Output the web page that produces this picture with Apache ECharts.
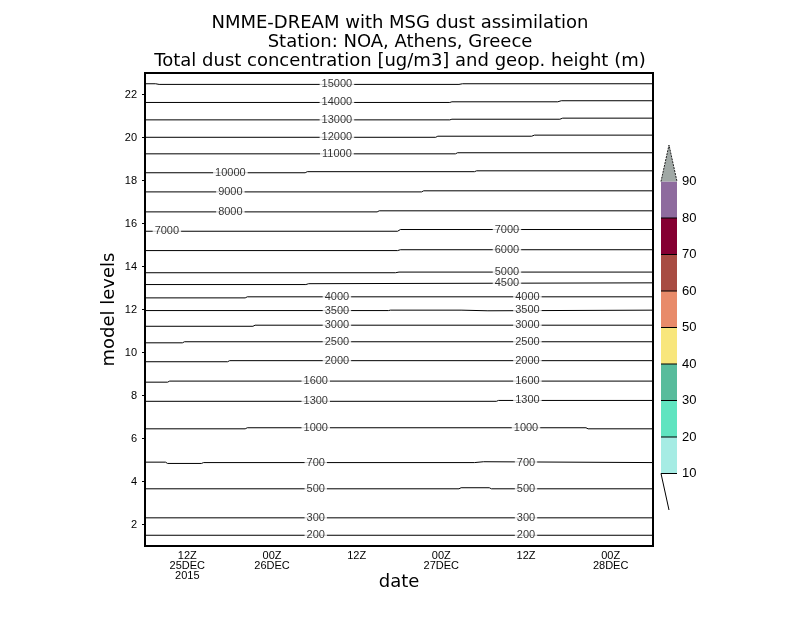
<!DOCTYPE html>
<html><head><meta charset="utf-8">
<script src="https://cdn.jsdelivr.net/npm/echarts@6/dist/echarts.min.js"></script>
<style>html,body{margin:0;padding:0;background:#fff}#c{width:800px;height:618px}</style>
</head><body><div id="c"></div><script>
// x: hours since 00Z 25DEC2015 ; y: model level
const xMin = 6, xMax = 78;
const xTickHours = [12, 24, 36, 48, 60, 72];
const xTickLabels = ['12Z\n25DEC\n2015', '00Z\n26DEC', '12Z', '00Z\n27DEC', '12Z', '00Z\n28DEC'];
const yTicks = [2, 4, 6, 8, 10, 12, 14, 16, 18, 20, 22];

// contour lines of geopotential height (m): [hour, model level]
const z15000 = [[6,22.50],[7.5,22.50],[8,22.47],[50.5,22.47],[51,22.50],[78,22.50]];
const z14000 = [[6,21.63],[49.2,21.63],[49.5,21.66],[64.5,21.66],[65,21.71],[78,21.71]];
const z13000 = [[6,20.82],[49.2,20.82],[49.5,20.85],[64.8,20.85],[65.2,20.90],[78,20.90]];
const z12000 = [[6,20.01],[47.2,20.01],[47.5,20.06],[60.8,20.06],[61.2,20.11],[78,20.11]];
const z11000 = [[6,19.24],[50,19.24],[50.3,19.29],[78,19.29]];
const z10000 = [[6,18.36],[28.7,18.36],[29,18.41],[52.7,18.41],[53,18.45],[78,18.45]];
const z9000  = [[6,17.47],[45.2,17.47],[45.5,17.52],[78,17.52]];
const z8000  = [[6,16.54],[38.9,16.54],[39.2,16.59],[78,16.59]];
const z7000  = [[6,15.64],[41.8,15.64],[42.2,15.72],[78,15.72]];
const z6000  = [[6,14.74],[41.8,14.74],[42.2,14.78],[78,14.78]];
const z5000  = [[6,13.71],[41.5,13.71],[42,13.74],[78,13.74]];
const z4500  = [[6,13.16],[28.8,13.16],[29.2,13.20],[78,13.24]];
const z4000  = [[6,12.54],[20.2,12.54],[20.5,12.59],[78,12.59]];
const z3500  = [[6,11.95],[40.5,11.95],[40.8,11.97],[50.8,11.97],[51,11.94],[54.6,11.94],[54.8,11.97],[78,11.97]];
const z3000  = [[6,11.22],[21.3,11.22],[21.6,11.27],[78,11.27]];
const z2500  = [[6,10.45],[11.3,10.45],[11.6,10.50],[78,10.50]];
const z2000  = [[6,9.57],[17.7,9.57],[18,9.62],[78,9.62]];
const z1600  = [[6,8.62],[9.2,8.62],[9.5,8.67],[78,8.67]];
const z1300  = [[6,7.73],[55.8,7.73],[56.1,7.77],[78,7.77]];
const z1000  = [[6,6.45],[20.2,6.45],[20.5,6.50],[68.5,6.50],[68.8,6.45],[78,6.45]];
const z700   = [[6,4.90],[8.9,4.90],[9.2,4.84],[14.0,4.84],[14.3,4.88],[52.7,4.88],[52.9,4.92],[54.0,4.92],[54.2,4.88],[78,4.88]];
const z500   = [[6,3.66],[50.5,3.66],[50.8,3.71],[54.8,3.71],[55.1,3.66],[78,3.66]];
const z300   = [[6,2.31],[78,2.31]];
const z200   = [[6,1.50],[78,1.50]];

const contourValues = [15000,14000,13000,12000,11000,10000,9000,8000,7000,6000,5000,4500,4000,3500,3000,2500,2000,1600,1300,1000,700,500,300,200];
const contourLines = [z15000,z14000,z13000,z12000,z11000,z10000,z9000,z8000,z7000,z6000,z5000,z4500,z4000,z3500,z3000,z2500,z2000,z1600,z1300,z1000,z700,z500,z300,z200];

// contour label anchors: [height, hour]
const labelSpots = [
  [15000,33.2],[14000,33.2],[13000,33.2],[12000,33.2],[11000,33.2],
  [10000,18.1],[9000,18.1],[8000,18.1],
  [7000,9.1],[7000,57.3],[6000,57.3],[5000,57.3],[4500,57.3],
  [4000,33.2],[4000,60.2],[3500,33.2],[3500,60.2],[3000,33.2],[3000,60.2],
  [2500,33.2],[2500,60.2],[2000,33.2],[2000,60.2],
  [1600,30.2],[1600,60.2],[1300,30.2],[1300,60.2],
  [1000,30.2],[1000,60.0],[700,30.2],[700,60.0],[500,30.2],[500,60.0],
  [300,30.2],[300,60.0],[200,30.2],[200,60.0]
];

// dust concentration colour scale
const cbBounds = [10,20,30,40,50,60,70,80,90];
const cbColors = ['#a6ece4','#60e4c0','#58bc9c','#f8e67c','#e88b6a','#a84c42','#850032','#8e6b9e'];
const cbOverColor = '#a0a8a5';
const cbTop = 100, cbBottom = 0;

function interp(arr, h) {
  for (let i = 0; i < arr.length - 1; i++) {
    if (h >= arr[i][0] && h <= arr[i+1][0]) {
      const t = (h - arr[i][0]) / (arr[i+1][0] - arr[i][0] || 1);
      return arr[i][1] + t * (arr[i+1][1] - arr[i][1]);
    }
  }
  return arr[arr.length-1][1];
}

const FONT = "'Liberation Sans', Arial, sans-serif";
const TFONT = "'DejaVu Sans', 'Liberation Sans', sans-serif";
const series = [];
contourLines.forEach((arr, i) => {
  series.push({
    type: 'line', xAxisIndex: 0, yAxisIndex: 0, data: arr,
    showSymbol: false, symbol: 'none', silent: true, z: 2,
    lineStyle: { color: '#000', width: 1 }
  });
});
series.push({
  type: 'scatter', xAxisIndex: 0, yAxisIndex: 0, silent: true, z: 5,
  symbolSize: 0,
  data: labelSpots.map(([v, h]) => [h, interp(contourLines[contourValues.indexOf(v)], h), v]),
  label: {
    show: true, position: 'inside', formatter: p => String(p.value[2]),
    color: '#000', fontSize: 11, fontFamily: FONT,
    backgroundColor: '#fff', padding: [0, 2]
  }
});
// colour bar blocks
series.push({
  type: 'custom', xAxisIndex: 1, yAxisIndex: 1, silent: true, z: 3,
  data: cbColors.map((c, i) => [cbBounds[i], cbBounds[i+1], i]),
  renderItem: (params, api) => {
    const lo = api.value(0), hi = api.value(1), idx = api.value(2);
    const a = api.coord([0, hi]), b = api.coord([1, lo]);
    return { type: 'group', children: [
      { type: 'rect', shape: { x: a[0], y: a[1], width: b[0]-a[0], height: b[1]-a[1] }, style: { fill: cbColors[idx], stroke: null } },
      { type: 'line', shape: { x1: a[0], y1: b[1], x2: b[0], y2: b[1] }, style: { stroke: '#000', lineWidth: 1 } }
    ]};
  }
});
// over / under triangles
series.push({
  type: 'custom', xAxisIndex: 1, yAxisIndex: 1, silent: true, z: 3,
  data: [[cbBounds[cbBounds.length-1], cbTop]],
  renderItem: (params, api) => {
    const base = api.value(0), top = api.value(1);
    const p1 = api.coord([0, base]), p2 = api.coord([1, base]), p3 = api.coord([0.5, top]);
    const q1 = api.coord([0, cbBounds[0]]), q2 = api.coord([0.5, cbBottom]);
    return { type: 'group', children: [
      { type: 'polygon', shape: { points: [p1, p2, p3] }, style: { fill: cbOverColor, stroke: null } },
      { type: 'polyline', shape: { points: [p1, p3, p2] }, style: { stroke: '#222', lineWidth: 1, lineDash: [2, 1], fill: null } },
      { type: 'line', shape: { x1: q1[0], y1: q1[1], x2: q2[0], y2: q2[1] }, style: { stroke: '#000', lineWidth: 1 } }
    ]};
  }
});

const chart = echarts.init(document.getElementById('c'));
chart.setOption({
  animation: false,
  backgroundColor: '#fff',
  textStyle: { fontFamily: FONT },
  title: {
    text: 'NMME-DREAM with MSG dust assimilation\nStation: NOA, Athens, Greece\nTotal dust concentration [ug/m3] and geop. height (m)',
    left: 'center', top: 9,
    textStyle: { fontSize: 18, fontWeight: 'normal', lineHeight: 19, color: '#000', fontFamily: TFONT }
  },
  grid: [
    { left: 145, top: 73, width: 508, height: 473, show: true, borderColor: '#000', borderWidth: 2, backgroundColor: 'transparent' },
    { left: 661, top: 145, width: 16, height: 365 }
  ],
  xAxis: [
    {
      type: 'value', gridIndex: 0, min: xMin, max: xMax,
      axisLine: { show: true, lineStyle: { color: '#000', width: 2 } },
      axisTick: { show: false }, splitLine: { show: false },
      axisLabel: {
        customValues: xTickHours, margin: 5, color: '#000', fontSize: 11, lineHeight: 10, fontFamily: FONT,
        formatter: v => xTickLabels[xTickHours.indexOf(v)] || ''
      },
      name: 'date', nameLocation: 'middle', nameGap: 27, nameMoveOverlap: false,
      nameTextStyle: { fontSize: 18, color: '#000', fontFamily: TFONT, verticalAlign: 'top' }
    },
    { type: 'value', gridIndex: 1, min: 0, max: 1, show: false }
  ],
  yAxis: [
    {
      type: 'value', gridIndex: 0, min: 1, max: 23,
      axisLine: { show: true, lineStyle: { color: '#000', width: 2 } },
      axisTick: { show: true, customValues: yTicks, length: 3, lineStyle: { color: '#000' } },
      splitLine: { show: false },
      axisLabel: { customValues: yTicks, margin: 8, color: '#000', fontSize: 11, fontFamily: FONT },
      name: 'model levels', nameLocation: 'middle', nameGap: 27, nameRotate: 90, nameMoveOverlap: false,
      nameTextStyle: { fontSize: 18, color: '#000', fontFamily: TFONT }
    },
    {
      type: 'value', gridIndex: 1, min: cbBottom, max: cbTop, position: 'right',
      axisLine: { show: false }, axisTick: { show: false }, splitLine: { show: false },
      axisLabel: { customValues: cbBounds, margin: 5, color: '#000', fontSize: 13, fontFamily: FONT }
    }
  ],
  series: series
});
</script></body></html>
